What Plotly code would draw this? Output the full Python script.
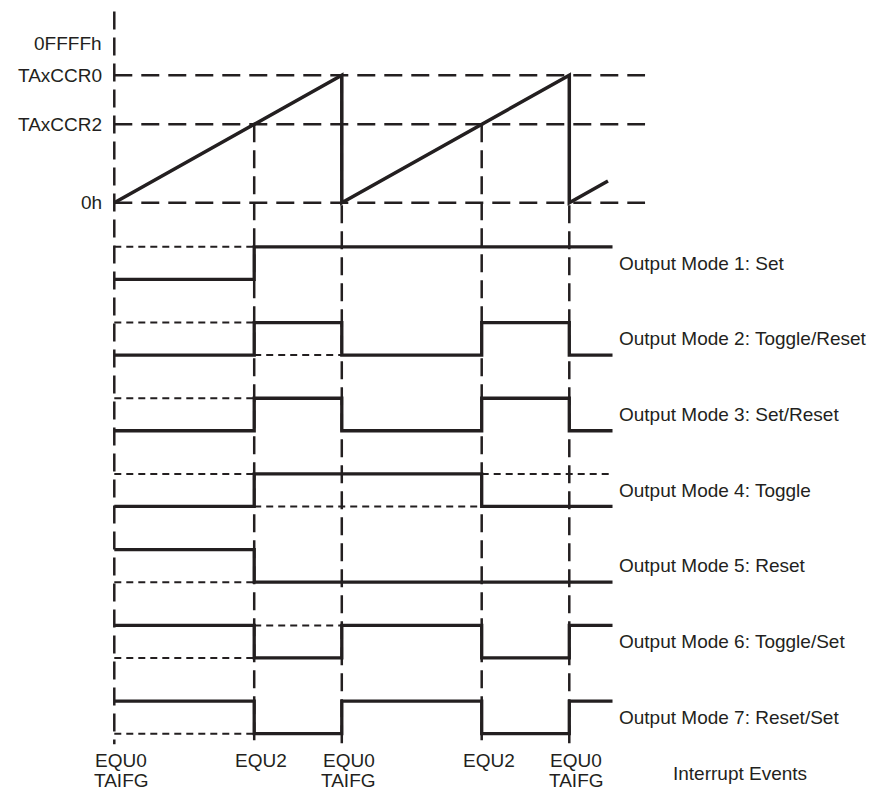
import plotly.graph_objects as go

INK = "#231f20"
FONT = dict(family="Liberation Sans, Arial, sans-serif", size=19, color=INK)

# ---- timer counter (up mode), in units of TAxCCR0 ----
CCR0 = 1.0
CCR2 = 0.615
FULL_SCALE = 1.25                      # 0FFFFh
COUNTER_LEVEL_VALUES = [FULL_SCALE, CCR0, CCR2, 0.0]
COUNTER_LEVEL_LABELS = ["0FFFFh", "TAxCCR0", "TAxCCR2", "0h"]
COUNTER_GUIDE_VALUES = [CCR0, CCR2, 0.0]

# counter ramp, time in counter periods
COUNTER_T = [0.0, 1.0, 1.0, 2.0, 2.0, 2.17]
COUNTER_V = [0.0, 1.0, 0.0, 1.0, 0.0, 0.17]

# ---- interrupt events ----
EVENT_T = [0.0, 0.615, 1.0, 1.615, 2.0]
EVENT_NAME = ["EQU0", "EQU2", "EQU0", "EQU2", "EQU0"]
EVENT_FLAG = ["TAIFG", "", "TAIFG", "", "TAIFG"]
EVENT_TOP = [1.5, CCR2, CCR0, CCR2, CCR0]
SIGNAL_END = 2.19

# ---- output units: level held in each interval between events ----
MODE_NAMES = [
    "Output Mode 1: Set",
    "Output Mode 2: Toggle/Reset",
    "Output Mode 3: Set/Reset",
    "Output Mode 4: Toggle",
    "Output Mode 5: Reset",
    "Output Mode 6: Toggle/Set",
    "Output Mode 7: Reset/Set",
]
MODE_LEVELS = [
    [0, 1, 1, 1, 1],
    [0, 1, 0, 1, 0],
    [0, 1, 0, 1, 0],
    [0, 1, 1, 0, 0],
    [1, 0, 0, 0, 0],
    [1, 0, 1, 0, 1],
    [1, 0, 1, 0, 1],
]
# intervals where the opposite level is marked with a dashed guide
MODE_GUIDES = [
    [1, 0, 0, 0, 0],
    [1, 1, 0, 0, 0],
    [1, 0, 0, 0, 0],
    [1, 1, 1, 1, 1],
    [1, 0, 0, 0, 0],
    [1, 1, 0, 0, 0],
    [1, 0, 0, 0, 0],
]

# ---- layout constants ----
LANE_PITCH = 2.33          # lane spacing in units of signal swing
GUIDE_END = 2.333          # right end of counter level guides
EVENT_BOTTOM = -4.25       # bottom of event lines (counter units)
X_RANGE = [-0.5024, 3.3394]
Y_COUNTER_RANGE = [-4.610, 1.591]
Y_LANE_RANGE = [-15.714, 8.594]

bounds = EVENT_T + [SIGNAL_END]

fig = go.Figure()

# counter level guides
for v in COUNTER_GUIDE_VALUES:
    fig.add_trace(go.Scatter(
        x=[0.0, GUIDE_END], y=[v, v], mode="lines", yaxis="y",
        line=dict(color=INK, width=2.5, dash="18px,9px")))

# event lines
for t, top in zip(EVENT_T, EVENT_TOP):
    fig.add_trace(go.Scatter(
        x=[t, t], y=[top, EVENT_BOTTOM], mode="lines", yaxis="y",
        line=dict(color=INK, width=2.5, dash="18px,8px")))

# dashed guides for the opposite output level
for k, (levels, guides) in enumerate(zip(MODE_LEVELS, MODE_GUIDES)):
    base = -k * LANE_PITCH
    gx, gy = [], []
    for i, (lvl, g) in enumerate(zip(levels, guides)):
        if not g:
            continue
        y = base + (1 - lvl)
        t0, t1 = bounds[i], bounds[i + 1]
        if gx and gx[-1] == t0 and gy[-1] == y:
            gx[-1] = t1
        else:
            if gx:
                gx.append(None)
                gy.append(None)
            gx += [t0, t1]
            gy += [y, y]
    fig.add_trace(go.Scatter(
        x=gx, y=gy, mode="lines", yaxis="y2", connectgaps=False,
        line=dict(color=INK, width=2, dash="7px,5px")))

# output waveforms
for k, levels in enumerate(MODE_LEVELS):
    base = -k * LANE_PITCH
    sx, sy = [], []
    for i, lvl in enumerate(levels):
        sx += [bounds[i], bounds[i + 1]]
        sy += [base + lvl, base + lvl]
    fig.add_trace(go.Scatter(
        x=sx, y=sy, mode="lines", yaxis="y2",
        line=dict(color=INK, width=3.3)))

# counter ramp
fig.add_trace(go.Scatter(
    x=COUNTER_T, y=COUNTER_V, mode="lines", yaxis="y",
    line=dict(color=INK, width=3.5)))

annotations = []
for v, name in zip(COUNTER_LEVEL_VALUES, COUNTER_LEVEL_LABELS):
    annotations.append(dict(
        x=0.0, y=v, xref="x", yref="y", text=name, showarrow=False,
        xanchor="right", yanchor="middle", xshift=-10, font=FONT))

for k, name in enumerate(MODE_NAMES):
    annotations.append(dict(
        x=SIGNAL_END, y=-k * LANE_PITCH + 0.5, xref="x", yref="y2",
        text=name, showarrow=False, xanchor="left", yanchor="middle",
        xshift=4, font=FONT))

for t, name, flag in zip(EVENT_T, EVENT_NAME, EVENT_FLAG):
    annotations.append(dict(
        x=t, y=1 - 760.5 / 790, xref="x", yref="paper", text=name,
        showarrow=False, xanchor="center", yanchor="middle", xshift=7,
        font=FONT))
    if flag:
        annotations.append(dict(
            x=t, y=1 - 780 / 790, xref="x", yref="paper", text=flag,
            showarrow=False, xanchor="center", yanchor="middle", xshift=7,
            font=FONT))

annotations.append(dict(
    x=2.75, y=1 - 773 / 790, xref="x", yref="paper",
    text="Interrupt Events", showarrow=False, xanchor="center",
    yanchor="middle", font=FONT))

fig.update_layout(
    width=874, height=790, autosize=False,
    margin=dict(l=0, r=0, t=0, b=0, pad=0),
    paper_bgcolor="white", plot_bgcolor="white",
    showlegend=False, hovermode=False,
    xaxis=dict(range=X_RANGE, visible=False, fixedrange=True),
    yaxis=dict(range=Y_COUNTER_RANGE, visible=False, fixedrange=True),
    yaxis2=dict(range=Y_LANE_RANGE, visible=False, overlaying="y",
                fixedrange=True),
    annotations=annotations,
)

fig.write_html("out.html", config=dict(displayModeBar=False))
